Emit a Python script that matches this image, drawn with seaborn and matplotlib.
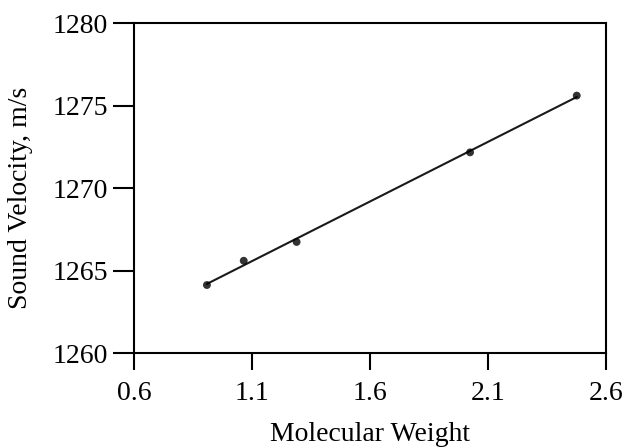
import matplotlib
matplotlib.use("Agg")
import matplotlib.pyplot as plt
import seaborn as sns
import pandas as pd

molecular_weight = [0.909, 1.065, 1.289, 2.024, 2.476]
sound_velocity = [1264.12, 1265.59, 1266.73, 1272.16, 1275.6]
x_ticks = [0.6, 1.1, 1.6, 2.1, 2.6]
y_ticks = [1260, 1265, 1270, 1275, 1280]

sns.set_theme(style="ticks")
plt.rcParams['font.family'] = ['Liberation Serif', 'DejaVu Serif']

df = pd.DataFrame({"mw": molecular_weight, "sv": sound_velocity})

fig = plt.figure(figsize=(6.27, 4.48), dpi=100)
ax = fig.add_axes([134/627, 1-353/448, (606-134)/627, (353-23)/448])

sns.regplot(data=df, x="mw", y="sv", ax=ax, ci=None, truncate=True,
            scatter_kws=dict(s=32, color="black", edgecolor="none", zorder=3),
            line_kws=dict(color="#1a1a1a", lw=1.5))

ax.set_xlim(0.6, 2.6)
ax.set_ylim(1260, 1280)
ax.set_xticks(x_ticks)
ax.set_xticklabels(["0.6", "1.1", "1.6", "2.1", "2.6"])
ax.set_yticks(y_ticks)
ax.set_yticklabels([str(v) for v in y_ticks])

for s in ax.spines.values():
    s.set_visible(True)
    s.set_linewidth(1.5)
    s.set_color("black")

ax.tick_params(axis="y", direction="out", length=15, width=1.5, pad=4,
               labelsize=20, colors="black")
ax.tick_params(axis="x", direction="out", length=12.5, width=1.5, pad=8,
               labelsize=20, colors="black")

ax.set_xlabel("Molecular Weight", fontsize=20, color="black")
ax.set_ylabel("Sound Velocity, m/s", fontsize=20, color="black")
ax.xaxis.set_label_coords(0.5, -0.21)
ax.yaxis.set_label_coords(-0.214, 0.471)

fig.savefig("out.png", dpi=100)
